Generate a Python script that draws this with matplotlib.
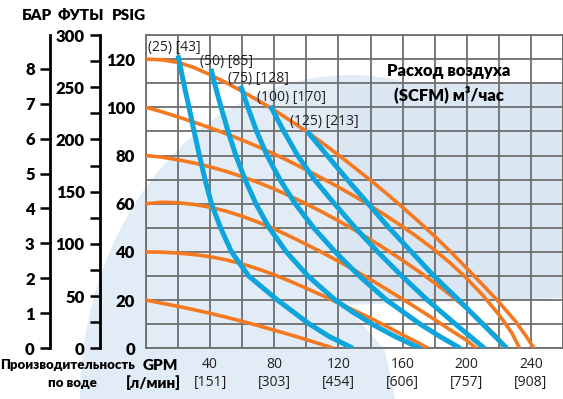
import matplotlib
matplotlib.use("Agg")
import matplotlib.pyplot as plt
from matplotlib.patches import Ellipse, Rectangle, Polygon
import numpy as np

W, H = 563, 399

# water flow axis
gpm_ticks = [40, 80, 120, 160, 200, 240]
lpm_ticks = [151, 303, 454, 606, 757, 908]
psig_ticks = [0, 20, 40, 60, 80, 100, 120]
bar_ticks = [0, 1, 2, 3, 4, 5, 6, 7, 8]
feet_ticks = [0, 50, 100, 150, 200, 250, 300]

# discharge pressure curves (GPM, PSIG) at each air inlet pressure
o120_gpm = [0, 10, 20, 30, 40, 50, 60, 70, 80, 90, 100, 110, 120, 130, 140, 150, 160, 170, 180, 190, 200, 210, 220, 230, 236, 242]
o120_psi = [120, 119.7, 118.6, 116.5, 113.5, 110.2, 106.6, 102.8, 98.8, 94.5, 90, 85.2, 80.2, 75, 69.7, 64.2, 58.5, 52.6, 46.5, 40, 33.2, 26.3, 19.2, 11.5, 6, 0]
o100_gpm = [0, 10, 20, 30, 40, 50, 60, 70, 80, 90, 100, 110, 120, 130, 140, 150, 160, 170, 180, 190, 200, 210, 220, 228, 233]
o100_psi = [100, 98.1, 96, 93.8, 91.5, 89, 86.4, 83.6, 80.6, 77.4, 74, 70.5, 66.9, 63.1, 59.1, 54.9, 50.5, 45.8, 40.8, 35.2, 29, 22, 14, 6.5, 0]
o80_gpm = [0, 10, 20, 30, 40, 50, 60, 70, 80, 90, 100, 110, 120, 130, 140, 150, 160, 170, 180, 190, 200, 210, 220, 223]
o80_psi = [80, 79.3, 78.2, 76.9, 75.3, 73.4, 71.2, 68.8, 66.1, 63.1, 59.9, 56.5, 52.9, 49.1, 45.1, 40.9, 36.5, 31.9, 27.1, 22, 16.5, 10.5, 4, 0]
o60_gpm = [0, 10, 20, 30, 40, 50, 60, 70, 80, 90, 100, 110, 120, 130, 140, 150, 160, 170, 180, 190, 200, 206]
o60_psi = [60, 60.6, 60.4, 59.7, 58.5, 56.9, 54.8, 52.3, 49.5, 46.4, 43.1, 39.7, 36.1, 32.4, 28.5, 24.5, 20.4, 16.2, 11.9, 7.5, 3.3, 0]
o40_gpm = [0, 10, 20, 30, 40, 50, 60, 70, 80, 90, 100, 110, 120, 130, 140, 150, 160, 170, 176]
o40_psi = [40, 39.9, 39.5, 38.9, 38, 36.7, 35, 32.9, 30.5, 27.8, 24.9, 21.9, 18.8, 15.7, 12.5, 9.1, 5.6, 2.2, 0]
o20_gpm = [0, 10, 20, 30, 40, 50, 60, 70, 80, 90, 100, 110, 117]
o20_psi = [20, 18.7, 17.4, 16, 14.5, 12.9, 11.2, 9.4, 7.5, 5.6, 3.6, 1.5, 0]

# air consumption curves (GPM, PSIG)
b25_gpm = [20, 23.5, 26.8, 30, 33.3, 36.8, 40.8, 46.5, 53.3, 64, 82, 92, 102, 114, 129]
b25_psi = [121.5, 110, 100, 90, 80, 70, 60, 50, 40, 30, 20, 15, 10, 5, 0]
b50_gpm = [40.5, 42.7, 46.8, 51.2, 56, 61.8, 68.5, 76.8, 87.5, 101, 118, 129, 141, 155, 171]
b50_psi = [116, 110, 100, 90, 80, 70, 60, 50, 40, 30, 20, 15, 10, 5, 0]
b75_gpm = [59, 63.5, 69, 75.5, 83.5, 93, 104.5, 118, 133, 150, 171, 183, 196]
b75_psi = [109, 100, 90, 80, 70, 60, 50, 40, 30, 20, 10, 5, 0]
b100_gpm = [77.5, 86, 94.5, 105, 117.5, 130.5, 144.5, 159.5, 175.5, 193, 202, 211]
b100_psi = [100.6, 90, 80, 70, 60, 50, 40, 30, 20, 10, 5, 0]
b125_gpm = [100.3, 113, 125.5, 138.5, 151.5, 165.5, 179.5, 195, 210, 217.5, 225]
b125_psi = [90.2, 80, 70, 60, 50, 40, 30, 20, 10, 5, 0]

air_labels = ["(25) [43]", "(50) [85]", "(75) [128]", "(100) [170]", "(125) [213]"]
air_label_gpm = [1.2, 33.5, 51, 69, 90]
air_label_psi = [125, 118.8, 112, 104, 94.3]

ORANGE = "#f47920"
BLUE = "#0ea5dc"
GRID = "#6e6e6e"
COND = ["Lato", "DejaVu Sans"]
REG = ["Open Sans", "DejaVu Sans"]


def fx(px):
    return px / W


def fy(py):
    return 1 - py / H


fig = plt.figure(figsize=(W / 100, H / 100), dpi=100)
fig.patch.set_facecolor("white")

# pale blue pump silhouette behind the chart
fig.add_artist(Ellipse((fx(350), fy(400)), 540 / W, 650 / H, transform=fig.transFigure,
                       facecolor="#e2ecf6", edgecolor="none", zorder=0))
fig.add_artist(Rectangle((fx(340), fy(300)), (W - 340) / W, 217 / H, transform=fig.transFigure,
                         facecolor="#dae7f3", edgecolor="none", zorder=0))
fig.add_artist(Polygon([(fx(345), fy(305)), (fx(563), fy(298)), (fx(563), fy(399)),
                        (fx(395), fy(399)), (fx(385), fy(350))], closed=True,
                       transform=fig.transFigure, facecolor="white", edgecolor="none", zorder=0))

bottom, top = fy(348.3), fy(35)
ax = fig.add_axes([fx(146), bottom, 1 - fx(146), top - bottom])
ax.patch.set_alpha(0)
ax.set_xlim(0, 260)
ax.set_ylim(0, 130)

ax.set_xticks(np.arange(0, 261, 20))
ax.set_yticks(np.arange(0, 131, 10))
xlab = {g: f"{g}\n[{l}]" for g, l in zip(gpm_ticks, lpm_ticks)}
ax.set_xticklabels([xlab.get(int(v), "") for v in np.arange(0, 261, 20)],
                   family=REG, fontsize=10, color="#231f20", linespacing=1.3)
ax.set_yticklabels([str(int(v)) if int(v) in psig_ticks else "" for v in np.arange(0, 131, 10)],
                   family=COND, fontsize=12, fontweight="heavy")
ax.tick_params(axis="both", length=0)
ax.tick_params(axis="x", pad=6)
ax.tick_params(axis="y", pad=8)
ax.grid(True, color=GRID, lw=1.3)
ax.set_axisbelow(True)
for s in ax.spines.values():
    s.set_color(GRID)
    s.set_linewidth(1.3)

orange = [(o120_gpm, o120_psi), (o100_gpm, o100_psi), (o80_gpm, o80_psi),
          (o60_gpm, o60_psi), (o40_gpm, o40_psi), (o20_gpm, o20_psi)]
blue = [(b25_gpm, b25_psi), (b50_gpm, b50_psi), (b75_gpm, b75_psi),
        (b100_gpm, b100_psi), (b125_gpm, b125_psi)]
for g, p in orange:
    ax.plot(g, p, color=ORANGE, lw=2.6, solid_capstyle="butt", solid_joinstyle="round", zorder=3)
for g, p in blue:
    ax.plot(g, p, color=BLUE, lw=3.6, solid_capstyle="butt", solid_joinstyle="round", zorder=4)

for txt, g, p in zip(air_labels, air_label_gpm, air_label_psi):
    ax.text(g, p, txt, family=REG, fontsize=10, color="#231f20", ha="left", va="center", zorder=5)

ax.text(188.8, 110, "Расход воздуха\n(SCFM) м³/час", family=COND, fontsize=12,
        fontweight="heavy", ha="center", va="center", linespacing=1.4, zorder=5)

# bar and feet scales on the left
bax = fig.add_axes([fx(50), bottom, 0.0001, top - bottom])
bax.set_ylim(0, 130 / 14.5038)
fax = fig.add_axes([fx(100), bottom, 0.0001, top - bottom])
fax.set_ylim(0, 300)
for a, ticks in ((bax, bar_ticks), (fax, feet_ticks)):
    a.patch.set_alpha(0)
    for side in ("top", "right", "bottom"):
        a.spines[side].set_visible(False)
    a.spines["left"].set_linewidth(2)
    a.set_xticks([])
    a.set_yticks(ticks)
    a.set_yticklabels([str(t) for t in ticks], family=COND, fontsize=12, fontweight="heavy")
    a.tick_params(axis="y", which="both", length=7, width=1.8, pad=4)
fax.set_yticks(np.arange(25, 300, 50), minor=True)

hdr = dict(family=COND, fontsize=11, fontweight="heavy", va="center")
fig.text(fx(22), fy(15), "БАР", ha="left", **hdr)
fig.text(fx(58), fy(15), "ФУТЫ", ha="left", **hdr)
fig.text(fx(112), fy(15), "PSIG", ha="left", **hdr)

fig.text(fx(135), fy(365), "Производительность", family=COND, fontsize=9.5,
         fontweight="heavy", ha="right", va="center")
fig.text(fx(72), fy(383), "по воде", family=COND, fontsize=9.5,
         fontweight="heavy", ha="center", va="center")
fig.text(fx(178), fy(365), "GPM", family=COND, fontsize=11, fontweight="heavy", ha="right", va="center")
fig.text(fx(181), fy(383), "[л/мин]", family=COND, fontsize=11, fontweight="heavy", ha="right", va="center")

fig.savefig("out.png", dpi=100)
